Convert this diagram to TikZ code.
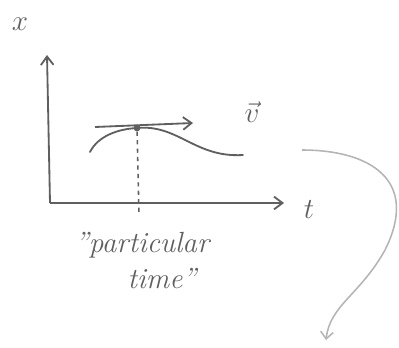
\documentclass[tikz,border=0pt]{standalone}
\usepackage{tikz}
\usetikzlibrary{arrows.meta,positioning,calc}
\definecolor{pencil}{RGB}{95,95,95}
\definecolor{faint}{RGB}{180,180,180}

\begin{document}
\begin{tikzpicture}[
    x=0.025cm, y=-0.025cm,
    axis_line/.style={->, pencil, line width=1.3pt, >={Straight Barb[length=6pt,width=9pt]}},
    graph_line/.style={pencil, line width=1.3pt, line cap=round},
    dash_line/.style={pencil, dash pattern=on 3pt off 3pt, line width=1.1pt},
    hand_text/.style={pencil, font=\itshape\huge, inner sep=1pt},
    swoop_edge/.style={->, faint, line width=1.1pt, >={Straight Barb[length=5pt,width=9pt]}}
]
    \useasboundingbox (0,0) rectangle (399,347);

    % --- Axes ---
    \coordinate (origin) at (50,203);
    \coordinate (ytop) at (47,55);
    \coordinate (xend) at (284,203);
    \draw[axis_line] (origin) -- (ytop);
    \draw[axis_line] (origin) -- (xend);
    \node[hand_text] (xlab) at (20,24) {$x$};
    \node[hand_text] (tlab) at (309,210) {$t$};

    % --- Curve and tangent ---
    \coordinate (cstart) at (90,152);
    \coordinate (cend) at (243,155);
    \node[circle, fill=pencil, inner sep=1.7pt] (peak) at (137,128) {};
    \draw[graph_line] (cstart) .. controls (98,136) and (118,129) .. (peak.center)
        .. controls (178,124) and (195,158) .. (cend);
    \coordinate (tstart) at (95,127);
    \coordinate (tend) at (193,123);
    \draw[axis_line] (tstart) -- (tend);
    \node[hand_text] (vlab) at (252,112) {$\vec{v}$};

    % --- Particular time ---
    \coordinate (tick) at (139,215);
    \draw[dash_line] (peak) -- (tick);
    \node[hand_text] (label1) at (142,245) {"particular};
    \node[hand_text] (label2) at (162,279) {time"};

    % --- Big swoop arrow ---
    \coordinate (sstart) at (302,150);
    \coordinate (send) at (326,340);
    \draw[swoop_edge] (sstart) .. controls (370,150) and (420,180) .. (385,250)
        .. controls (360,295) and (330,305) .. (send);

\end{tikzpicture}
\end{document}
